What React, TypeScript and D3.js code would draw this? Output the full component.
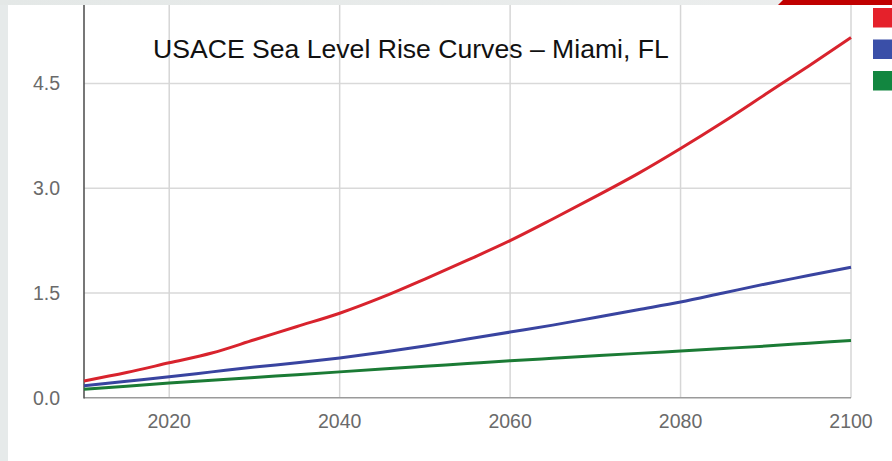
import React from "react";
import * as d3 from "d3";

const years = [2010, 2015, 2020, 2025, 2030, 2035, 2040, 2045, 2050, 2055, 2060, 2065, 2070, 2075, 2080, 2085, 2090, 2095, 2100];
const highCurve = [0.24, 0.36, 0.5, 0.64, 0.83, 1.02, 1.21, 1.44, 1.7, 1.97, 2.25, 2.56, 2.88, 3.21, 3.57, 3.95, 4.35, 4.75, 5.16];
const intermediateCurve = [0.17, 0.235, 0.3, 0.37, 0.44, 0.5, 0.57, 0.65, 0.74, 0.84, 0.94, 1.04, 1.15, 1.26, 1.37, 1.5, 1.63, 1.75, 1.87];
const lowCurve = [0.12, 0.165, 0.21, 0.25, 0.29, 0.33, 0.37, 0.41, 0.45, 0.49, 0.53, 0.565, 0.6, 0.635, 0.67, 0.705, 0.74, 0.78, 0.82];
const xTicks = [2020, 2040, 2060, 2080, 2100];
const xGrid = [2020, 2040, 2060, 2080, 2100];
const yTicks = [0, 1.5, 3.0, 4.5];
const title = "USACE Sea Level Rise Curves – Miami, FL";

const W = 892;
const H = 461;

export default function App() {
  const x = d3.scaleLinear().domain([2010, 2100]).range([84, 851]);
  const y = d3.scaleLinear().domain([0, 4.5]).range([397.7, 83.6]);

  const series = [
    { name: "High", values: highCurve, color: "#d8232d" },
    { name: "Intermediate", values: intermediateCurve, color: "#3944a0" },
    { name: "Low", values: lowCurve, color: "#1b7b35" },
  ];
  const legendColors = ["#e5212b", "#3a4fa8", "#128640"];

  const line = d3
    .line<number>()
    .x((_, i) => x(years[i]))
    .y((d) => y(d))
    .curve(d3.curveMonotoneX);

  const top = 5;

  return (
    <div style={{ position: "fixed", left: 0, top: 0, width: W, height: H }}>
      <svg width={W} height={H} style={{ display: "block" }}>
        <defs>
          <linearGradient id="topband" x1="0" x2="1" y1="0" y2="0">
            <stop offset="0" stopColor="#e4e8e7" />
            <stop offset="1" stopColor="#eceeee" />
          </linearGradient>
        </defs>
        <rect x={0} y={0} width={W} height={H} fill="#ffffff" />
        <rect x={0} y={0} width={8} height={H} fill="#e6eaea" />
        <rect x={0} y={0} width={W} height={top} fill="url(#topband)" />
        <path d={`M783,0 L${W},0 L${W},${top} L778,${top} Z`} fill="#c00000" />

        {/* grid */}
        {yTicks.filter((t) => t > 0).map((t) => (
          <line key={"gy" + t} x1={84} x2={851} y1={y(t)} y2={y(t)} stroke="#d9d9d9" strokeWidth={1.5} />
        ))}
        {xGrid.map((t) => (
          <line key={"gx" + t} x1={x(t)} x2={x(t)} y1={top} y2={y(0)} stroke="#d6d6d6" strokeWidth={1.5} />
        ))}

        {/* axes */}
        <line x1={84} x2={851} y1={y(0)} y2={y(0)} stroke="#9a9a9a" strokeWidth={1.5} />
        <line x1={84} x2={84} y1={top} y2={y(0) + 0.75} stroke="#555" strokeWidth={1.6} />

        {/* tick labels */}
        {yTicks.map((t) => (
          <text
            key={"ty" + t}
            x={60}
            y={y(t)}
            dy="0.35em"
            textAnchor="end"
            fontFamily="Liberation Sans, Arial, sans-serif"
            fontSize={19.5}
            fill="#6a6a6a"
          >
            {t.toFixed(1)}
          </text>
        ))}
        {xTicks.map((t) => (
          <text
            key={"tx" + t}
            x={x(t)}
            y={427.5}
            textAnchor="middle"
            fontFamily="Liberation Sans, Arial, sans-serif"
            fontSize={19.5}
            fill="#6a6a6a"
          >
            {t}
          </text>
        ))}

        {/* lines */}
        {series.map((s) => (
          <path key={s.name} d={line(s.values) || ""} fill="none" stroke={s.color} strokeWidth={3} strokeLinejoin="round" />
        ))}

        {/* title */}
        <text x={153} y={58} fontFamily="Liberation Sans, Arial, sans-serif" fontSize={26.6} fill="#111">
          {title}
        </text>

        {/* legend swatches */}
        {legendColors.map((c, i) => (
          <rect key={c} x={873} y={8 + i * 31.5} width={20} height={19.5} fill={c} />
        ))}
      </svg>
    </div>
  );
}
